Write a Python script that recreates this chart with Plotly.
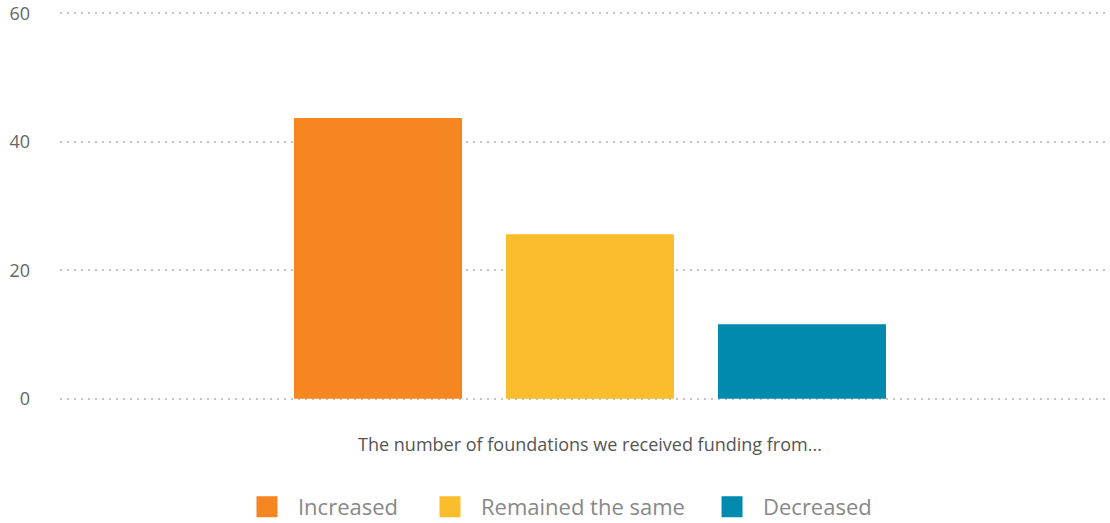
import plotly.graph_objects as go

# data
category = ['The number of foundations we received funding from...']
series_names = ['Increased', 'Remained the same', 'Decreased']
series_values = [43.7, 25.6, 11.6]
colors = ['#F58621', '#FABD2B', '#008AAE']
y_ticks = [0, 20, 40, 60]

fig = go.Figure()

# bars (legend drawn by proxy markers so the swatches can be bigger)
for name, val, col in zip(series_names, series_values, colors):
    fig.add_trace(go.Bar(name=name, x=category, y=[val], marker_color=col,
                         marker_line_width=0, showlegend=False))

legend_ids = ['legend', 'legend2', 'legend3']
legend_x = [0.1676, 0.3419, 0.6105]
for name, col, lg in zip(series_names, colors, legend_ids):
    fig.add_trace(go.Scatter(name=name, x=[None], y=[None], mode='markers', legend=lg,
                             marker=dict(symbol='square', size=16, color=col,
                                         line=dict(color=col, width=5)),
                             showlegend=True))

leg_common = dict(orientation='h', xanchor='left', yref='container', y=1 - 507 / 523,
                  yanchor='middle', font=dict(size=22, color='#888888'),
                  itemsizing='trace', itemwidth=52, bgcolor='rgba(0,0,0,0)')

fig.update_layout(
    width=1110, height=523,
    margin=dict(l=60, r=0, t=10, b=121, pad=0),
    plot_bgcolor='white', paper_bgcolor='white',
    font=dict(family='Open Sans', color='#666666'),
    barmode='group', bargap=0.4, bargroupgap=0.2075,
    legend=dict(x=legend_x[0], **leg_common),
    legend2=dict(x=legend_x[1], **leg_common),
    legend3=dict(x=legend_x[2], **leg_common),
)

fig.update_xaxes(range=[-0.5, 0.4906], showgrid=False, zeroline=False, showline=False,
                 ticks='', tickfont=dict(size=18, color='#555555'), ticklabelstandoff=30)
fig.update_yaxes(range=[-0.5, 60.5], tickvals=y_ticks, showgrid=True, gridcolor='#c4c4c4',
                 gridwidth=2, griddash='2px,5px', zeroline=False, showline=False,
                 ticks='', tickfont=dict(size=18, color='#666666'), ticklabelstandoff=29)

fig.write_html("out.html", config={'displayModeBar': False},
               post_script="document.body.style.margin='0';")
